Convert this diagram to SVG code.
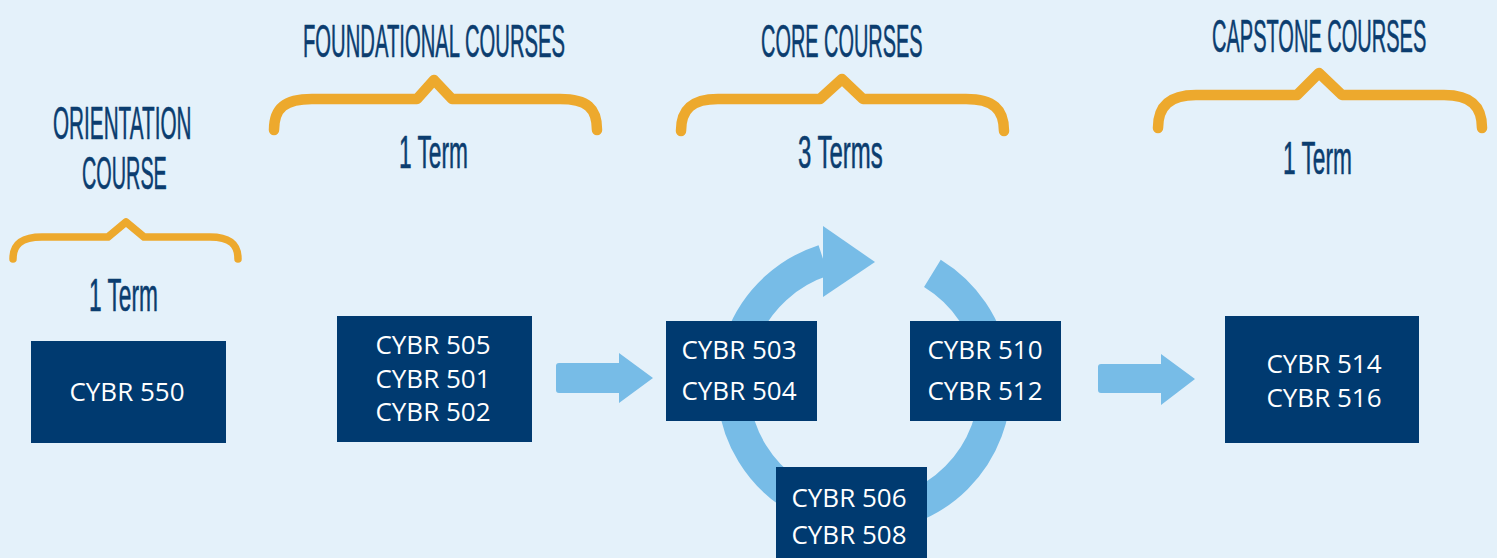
<svg xmlns="http://www.w3.org/2000/svg" width="1497" height="558" viewBox="0 0 1497 558">
<style>
.bg{fill:#E4F1FA}
.box{fill:#003A70}
.bt{fill:#FFFFFF;font-family:"Open Sans","Liberation Sans",sans-serif;font-size:26px;text-anchor:middle}
.hd{fill:#0B3D6F;stroke:#0B3D6F;stroke-width:0.6;stroke-linejoin:round;font-family:"Liberation Sans","DejaVu Sans",sans-serif;font-size:47px}
.brace{fill:none;stroke:#EDA92D;stroke-width:10.5;stroke-linecap:round;stroke-linejoin:round}
.arr{fill:#77BCE7}
.ring{fill:none;stroke:#77BCE7;stroke-width:32}
</style>
<rect class="bg" x="0" y="0" width="1497" height="558"/>

<g id="orientation-header">
<text class="hd" transform="translate(53,139) scale(0.441,1)">ORIENTATION</text>
<text class="hd" transform="translate(82,189) scale(0.422,1)">COURSE</text>
<path class="brace" style="stroke-width:7.5" d="M13,259 C13,245 20,237 42,237 L108,237 L126,222 L144,237 L210,237 C231,237 238,245 238,259"/>
<text class="hd" transform="translate(89,311) scale(0.483,1)">1 Term</text>
</g>

<g id="foundational-header">
<text class="hd" transform="translate(303,57) scale(0.431,1)">FOUNDATIONAL COURSES</text>
<path class="brace" d="M274,130 C274,108 285,99 312,99 L417,99 L434,80 L452,99 L560,99 C587,99 597,108 597,130"/>
<text class="hd" transform="translate(399,168) scale(0.483,1)">1 Term</text>
</g>

<g id="core-header">
<text class="hd" transform="translate(761,57) scale(0.424,1)">CORE COURSES</text>
<path class="brace" d="M681,131 C681,109 692,99 718,99 L820,99 L842,79 L863,99 L966,99 C993,99 1004,109 1004,131"/>
<text class="hd" transform="translate(798,168) scale(0.510,1)">3 Terms</text>
</g>

<g id="capstone-header">
<text class="hd" transform="translate(1212,52) scale(0.426,1)">CAPSTONE COURSES</text>
<path class="brace" d="M1158,128 C1158,106 1170,95 1196,95 L1297,95 L1319,73 L1342,95 L1444,95 C1471,95 1482,106 1482,128"/>
<text class="hd" transform="translate(1283,174) scale(0.483,1)">1 Term</text>
</g>

<g id="connectors">
<path class="arr" d="M559,363 L619,363 L619,353 L653,378 L619,403 L619,393 L559,393 Q556,393 556,390 L556,366 Q556,363 559,363 Z"/>
<path class="arr" d="M1101,364 L1161,364 L1161,354 L1195,379 L1161,405 L1161,393 L1101,393 Q1098,393 1098,390 L1098,367 Q1098,364 1101,364 Z"/>
<path class="ring" d="M932.4,273.3 A131,131 0 1 1 823.5,260.4"/>
<polygon class="arr" points="823,226 875,262 823,297"/>
</g>

<g id="cybr550">
<rect class="box" x="31" y="341" width="195" height="102"/>
<text class="bt" x="127" y="401">CYBR 550</text>
</g>

<g id="cybr505-501-502">
<rect class="box" x="337" y="316" width="195" height="126"/>
<text class="bt" x="433" y="354">CYBR 505</text>
<text class="bt" x="433" y="388">CYBR 501</text>
<text class="bt" x="433" y="421">CYBR 502</text>
</g>

<g id="cybr503-504">
<rect class="box" x="666" y="321" width="151" height="100"/>
<text class="bt" x="739" y="359">CYBR 503</text>
<text class="bt" x="739" y="400">CYBR 504</text>
</g>

<g id="cybr510-512">
<rect class="box" x="910" y="321" width="151" height="100"/>
<text class="bt" x="985" y="359">CYBR 510</text>
<text class="bt" x="985" y="400">CYBR 512</text>
</g>

<g id="cybr506-508">
<rect class="box" x="776" y="467" width="151" height="95"/>
<text class="bt" x="849" y="507">CYBR 506</text>
<text class="bt" x="849" y="544">CYBR 508</text>
</g>

<g id="cybr514-516">
<rect class="box" x="1225" y="316" width="194" height="127"/>
<text class="bt" x="1324" y="373">CYBR 514</text>
<text class="bt" x="1324" y="407">CYBR 516</text>
</g>
</svg>
